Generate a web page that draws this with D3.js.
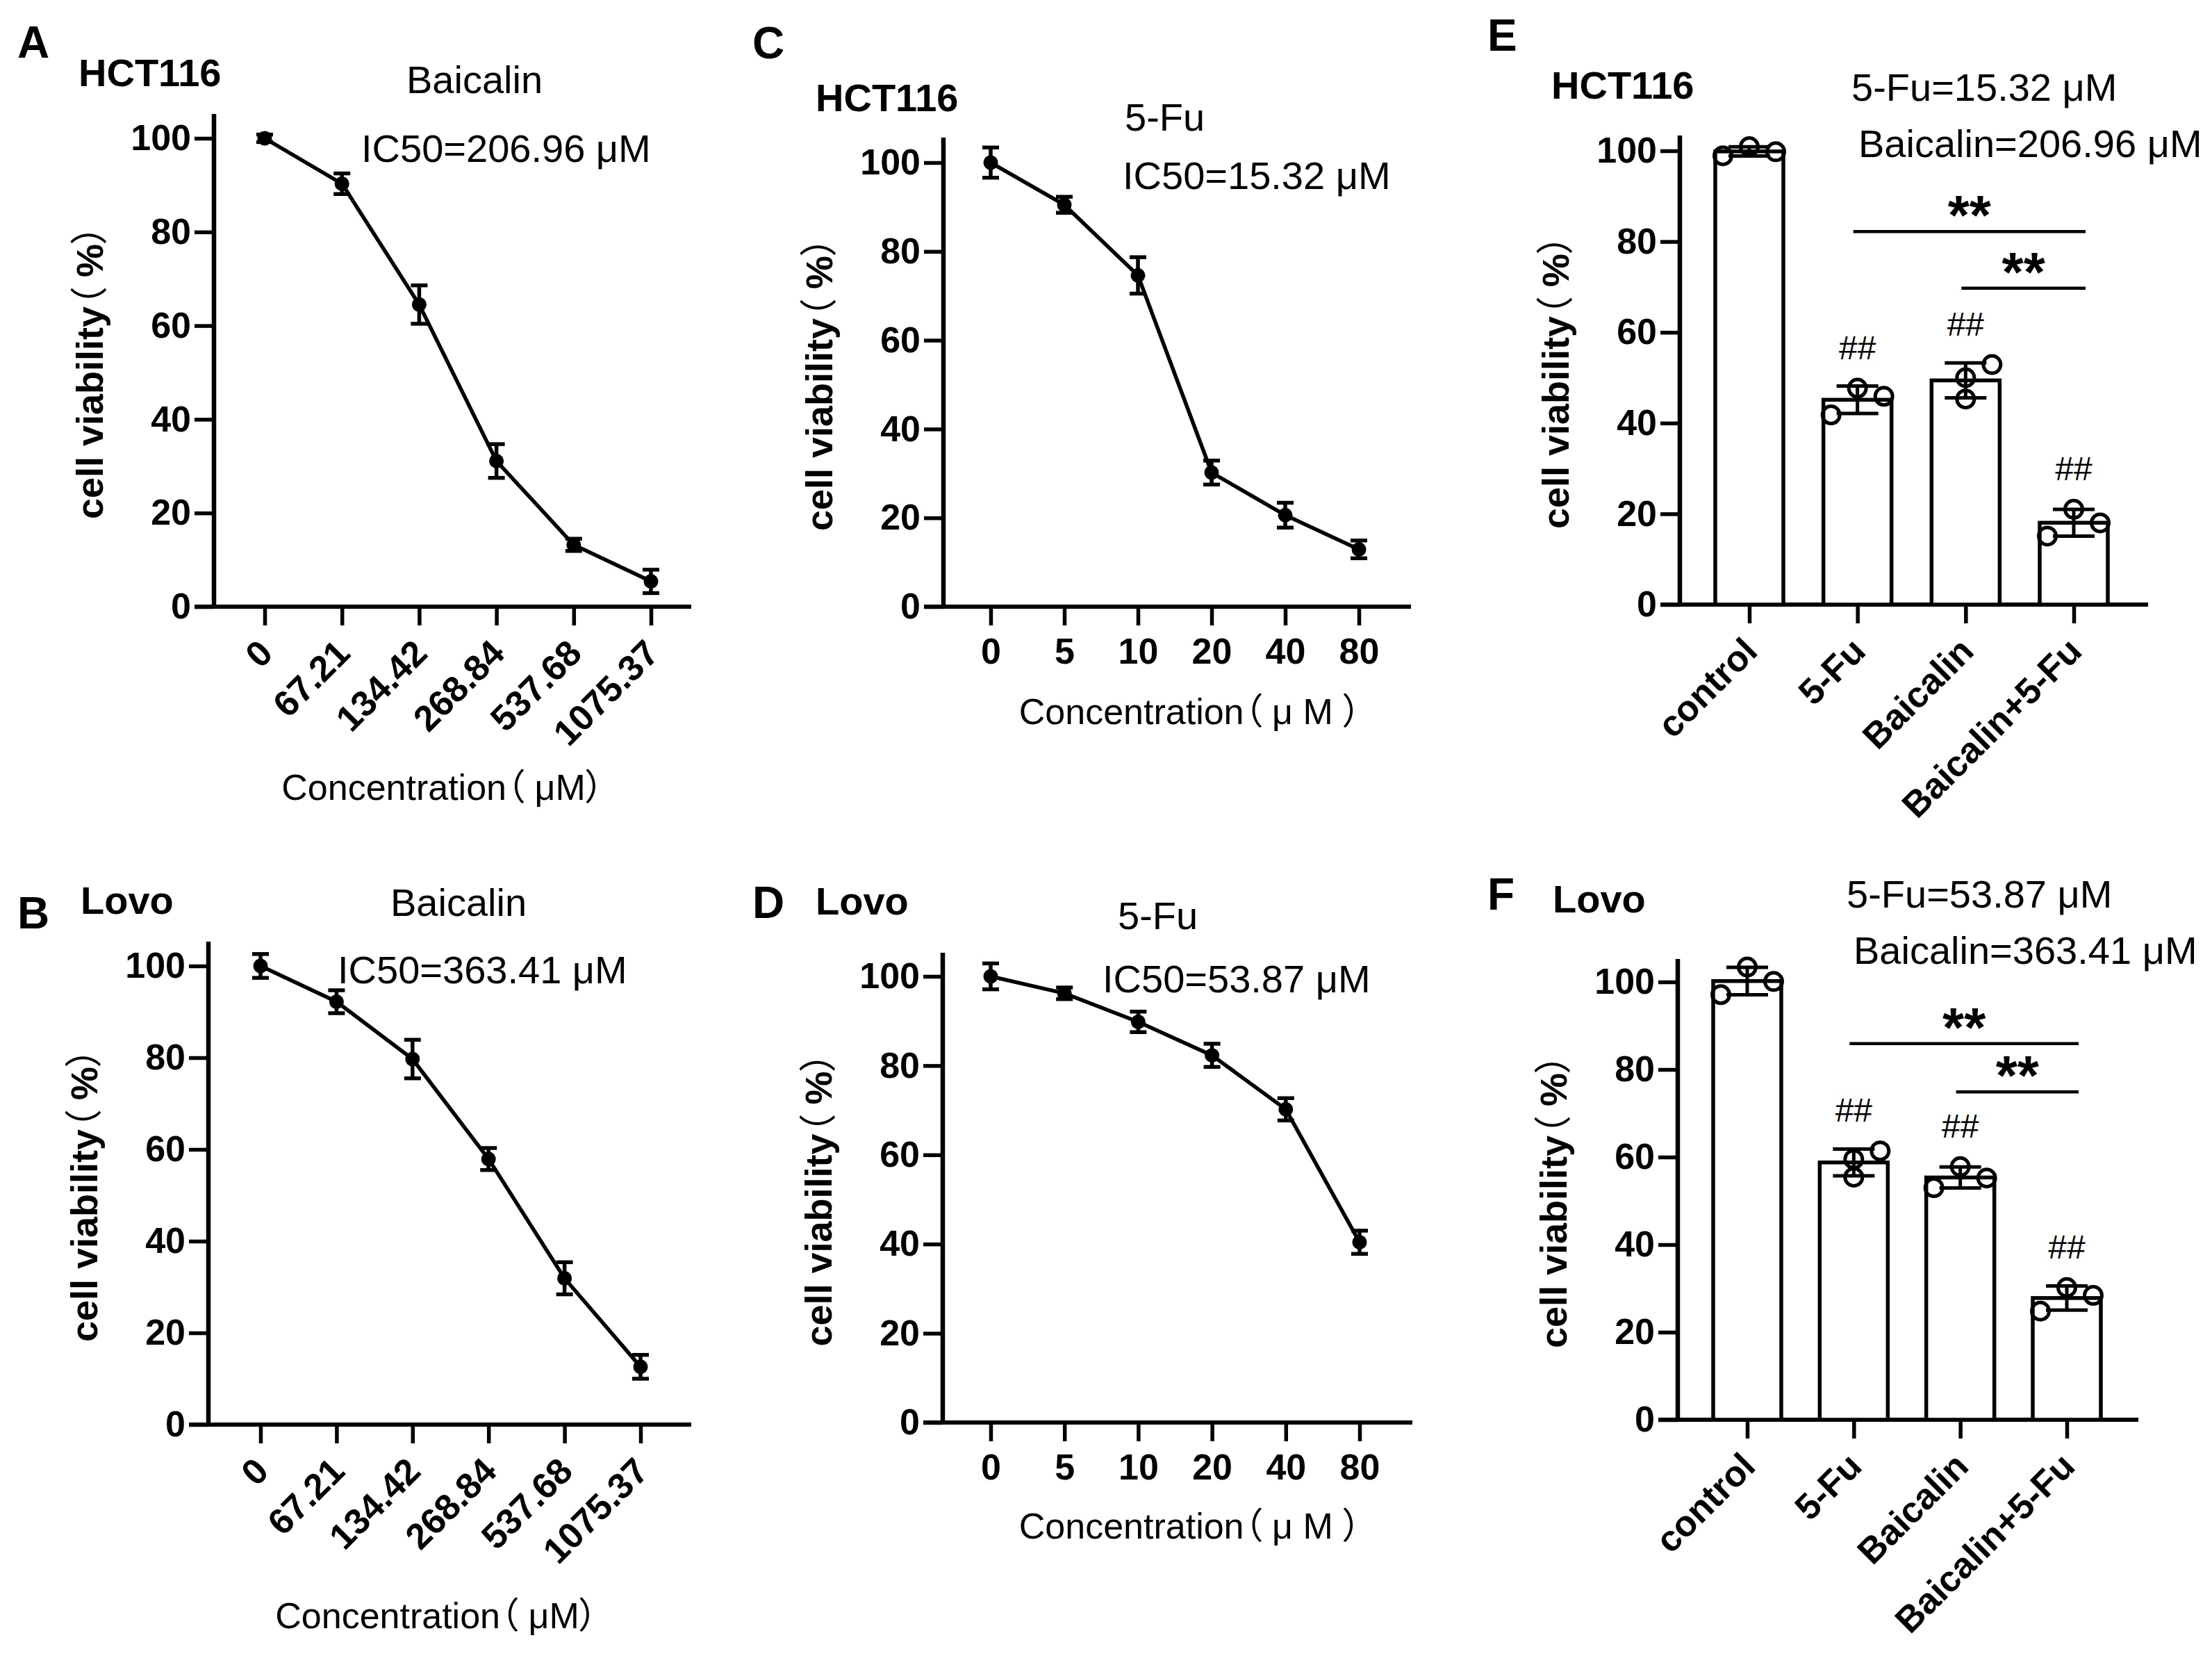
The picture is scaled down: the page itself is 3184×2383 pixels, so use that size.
<!DOCTYPE html>
<html>
<head>
<meta charset="utf-8">
<script src="https://cdn.jsdelivr.net/npm/d3@7"></script>
<style>
  body { margin: 0; background: #fff; }
  .cjk { font-family: 'Noto Sans CJK SC', sans-serif; font-weight: normal; font-feature-settings: "palt" 1; }
</style>
</head>
<body>
<svg id="fig"></svg>
<script>
// ---- data ----
var baiDoses = ["0", "67.21", "134.42", "268.84", "537.68", "1075.37"];
var fuDoses = ["0", "5", "10", "20", "40", "80"];
var yTicks = [0, 20, 40, 60, 80, 100];

// A: HCT116 + Baicalin
var hctBaiMean = [100, 90.3, 64.5, 31.1, 13.2, 5.4];
var hctBaiSd = [0.8, 2.2, 4.1, 3.6, 1.3, 2.5];
// B: Lovo + Baicalin
var lovoBaiMean = [100, 92.2, 79.7, 57.9, 31.9, 12.6];
var lovoBaiSd = [2.6, 2.5, 4.2, 2.4, 3.5, 2.6];
// C: HCT116 + 5-Fu
var hctFuMean = [100, 90.5, 74.6, 30.2, 20.6, 12.9];
var hctFuSd = [3.4, 1.8, 4.1, 2.7, 2.8, 2.0];
// D: Lovo + 5-Fu
var lovoFuMean = [100, 96.2, 89.8, 82.3, 70.2, 40.4];
var lovoFuSd = [2.9, 1.3, 2.3, 2.6, 2.5, 2.6];

// E / F: combination, three replicates per group
var groups = ["control", "5-Fu", "Baicalin", "Baicalin+5-Fu"];
var hctReps = [[98.9, 100.9, 99.8], [41.8, 47.7, 45.9], [50.0, 45.3, 52.9], [15.1, 21.0, 18.0]];
var lovoReps = [[97.1, 103.4, 100.1], [59.5, 55.4, 61.4], [53.0, 57.8, 55.2], [24.8, 30.2, 28.4]];
var hctSig = [82.2, 69.7];   // heights (in %) of the ** brackets
var lovoSig = [85.9, 74.9];

var W = 3184, H = 2383;
var FONT = "'Liberation Sans', Arial, 'Noto Sans CJK SC', sans-serif";

var svg = d3.select("#fig").attr("width", W).attr("height", H)
    .attr("font-family", FONT);
svg.append("rect").attr("width", W).attr("height", H).attr("fill", "#fff");

// writes a string; full-width brackets go in a CJK font with proportional widths
function fill(sel, s) {
    s.split(/([（）])/).forEach(function(part) {
        if (!part) return;
        var t = sel.append("tspan").text(part);
        if (part === "（" || part === "）") t.attr("class", "cjk");
    });
    return sel;
}

function txt(x, y, s, size, bold, anchor) {
    var t = svg.append("text")
        .attr("x", x).attr("y", y)
        .attr("font-size", size)
        .attr("font-weight", bold ? "bold" : "normal")
        .attr("text-anchor", anchor || "start")
        .attr("fill", "#000");
    return fill(t, s);
}

// common frame: y axis, x axis line, y title
function frame(L) {
    var y = d3.scaleLinear().domain([0, 100]).range([L.y0, L.y100]);
    var g = svg.append("g")
        .attr("transform", "translate(" + L.ax + ",0)")
        .call(d3.axisLeft(y).tickValues(yTicks).tickSize(28).tickPadding(5).tickSizeOuter(0));
    g.select(".domain").remove();
    g.attr("font-family", FONT).attr("font-size", 52).attr("font-weight", "bold");
    g.selectAll(".tick line").attr("stroke", "#000").attr("stroke-width", 5.5);
    g.selectAll(".tick text").attr("fill", "#000");

    svg.append("line")
        .attr("x1", L.ax).attr("x2", L.ax)
        .attr("y1", L.y0 + 3).attr("y2", L.yTop)
        .attr("stroke", "#000").attr("stroke-width", 6.5);
    svg.append("line")
        .attr("x1", L.ax - 28).attr("x2", L.xEnd)
        .attr("y1", L.y0).attr("y2", L.y0)
        .attr("stroke", "#000").attr("stroke-width", 6);

    var t = svg.append("text")
        .attr("transform", "translate(" + (L.ax - 160) + "," + ((L.y0 + L.yTop) / 2 + 17) + ") rotate(-90)")
        .attr("text-anchor", "middle")
        .attr("font-size", 54).attr("font-weight", "bold");
    fill(t, "cell viability（ %）");
    return y;
}

function xAxis(x, L, rotate, size) {
    var g = svg.append("g")
        .attr("transform", "translate(0," + L.y0 + ")")
        .call(d3.axisBottom(x).tickSize(27).tickPadding(18).tickSizeOuter(0));
    g.select(".domain").remove();
    g.attr("font-family", FONT).attr("font-size", size).attr("font-weight", "bold");
    g.selectAll(".tick line").attr("stroke", "#000").attr("stroke-width", 5.5);
    g.selectAll(".tick text").attr("fill", "#000");
    if (rotate) {
        g.selectAll(".tick text")
            .attr("x", 0).attr("y", 0).attr("dy", null)
            .attr("text-anchor", "end")
            .attr("transform", "translate(14,70) rotate(-45)");
    }
}

function linePanel(p) {
    var L = p.L;
    var y = frame(L);
    var x = d3.scalePoint().domain(p.doses).range(L.xr);
    xAxis(x, L, p.rotate, 52);

    var pts = p.doses.map(function(d, i) { return { dose: d, m: p.mean[i], s: p.sd[i] }; });

    svg.append("path")
        .datum(pts)
        .attr("fill", "none").attr("stroke", "#000").attr("stroke-width", 5.5)
        .attr("d", d3.line().x(function(d) { return x(d.dose); }).y(function(d) { return y(d.m); }));

    var eb = svg.append("g").attr("stroke", "#000").attr("stroke-width", 5.5);
    pts.forEach(function(d) {
        var cx = x(d.dose);
        eb.append("line").attr("x1", cx).attr("x2", cx).attr("y1", y(d.m - d.s)).attr("y2", y(d.m + d.s));
        eb.append("line").attr("x1", cx - 12).attr("x2", cx + 12).attr("y1", y(d.m - d.s)).attr("y2", y(d.m - d.s));
        eb.append("line").attr("x1", cx - 12).attr("x2", cx + 12).attr("y1", y(d.m + d.s)).attr("y2", y(d.m + d.s));
    });
    svg.append("g").selectAll("circle").data(pts).join("circle")
        .attr("cx", function(d) { return x(d.dose); })
        .attr("cy", function(d) { return y(d.m); })
        .attr("r", 10.5).attr("fill", "#000");

    txt(L.letter[0], L.letter[1], p.letter, 64, true);
    txt(L.cell[0], L.cell[1], p.cell, 56, true);
    txt(L.drug[0], L.drug[1], p.drug, 56, false, L.drugAnchor);
    txt(L.ic[0], L.ic[1], p.ic50, 56, false);
    txt(L.conc[0], L.conc[1], p.conc, 52, false, "middle");
}

function barPanel(p) {
    var L = p.L;
    var y = frame(L);
    var x = d3.scalePoint().domain(groups).range(L.xr);
    xAxis(x, L, true, 52);

    var stats = groups.map(function(g, i) {
        var r = p.reps[i];
        return { g: g, r: r, m: d3.mean(r), s: d3.deviation(r), jit: L.jitter[i] };
    });

    svg.append("g").selectAll("rect").data(stats).join("rect")
        .attr("x", function(d) { return x(d.g) - 49; })
        .attr("y", function(d) { return y(d.m); })
        .attr("width", 98)
        .attr("height", function(d) { return L.y0 - y(d.m); })
        .attr("fill", "#fff").attr("stroke", "#000").attr("stroke-width", 5.5);

    var eb = svg.append("g").attr("stroke", "#000").attr("stroke-width", 5);
    stats.forEach(function(d) {
        var cx = x(d.g);
        eb.append("line").attr("x1", cx).attr("x2", cx).attr("y1", y(d.m - d.s)).attr("y2", y(d.m + d.s));
        eb.append("line").attr("x1", cx - 30).attr("x2", cx + 30).attr("y1", y(d.m - d.s)).attr("y2", y(d.m - d.s));
        eb.append("line").attr("x1", cx - 30).attr("x2", cx + 30).attr("y1", y(d.m + d.s)).attr("y2", y(d.m + d.s));
    });

    var dots = [];
    stats.forEach(function(d) {
        d.r.forEach(function(v, k) { dots.push({ g: d.g, v: v, j: d.jit[k] }); });
    });
    svg.append("g").selectAll("circle").data(dots).join("circle")
        .attr("cx", function(d) { return x(d.g) + d.j * 38; })
        .attr("cy", function(d) { return y(d.v); })
        .attr("r", 12.5)
        .attr("fill", "none").attr("stroke", "#000").attr("stroke-width", 5);

    // ## over treated groups
    stats.slice(1).forEach(function(d) {
        txt(x(d.g), y(d3.max(d.r)) - 42, "##", 48, false, "middle");
    });

    // ** brackets: 5-Fu vs combo, Baicalin vs combo
    [[groups[1], p.sig[0]], [groups[2], p.sig[1]]].forEach(function(b) {
        var x1 = x(b[0]) - 6, x2 = x(groups[3]) + 17, yy = y(b[1]);
        svg.append("line").attr("x1", x1).attr("x2", x2).attr("y1", yy).attr("y2", yy)
            .attr("stroke", "#000").attr("stroke-width", 4.5);
        txt((x1 + x2) / 2, yy + 4, "**", 80, true, "middle");
    });

    txt(L.letter[0], L.letter[1], p.letter, 64, true);
    txt(L.cell[0], L.cell[1], p.cell, 56, true);
    txt(L.t1[0], L.t1[1], p.t1, 56, false);
    txt(L.t2[0], L.t2[1], p.t2, 56, false);
}

linePanel({
    letter: "A", cell: "HCT116", drug: "Baicalin", ic50: "IC50=206.96 μM",
    conc: "Concentration（ μM）", doses: baiDoses, mean: hctBaiMean, sd: hctBaiSd, rotate: true,
    L: { ax: 308, y0: 873, y100: 199, yTop: 164, xEnd: 995, xr: [381, 937],
         letter: [25, 83], cell: [113, 124], drug: [683, 134], drugAnchor: "middle",
         ic: [520, 233], conc: [637, 1151] }
});
linePanel({
    letter: "B", cell: "Lovo", drug: "Baicalin", ic50: "IC50=363.41 μM",
    conc: "Concentration（ μM）", doses: baiDoses, mean: lovoBaiMean, sd: lovoBaiSd, rotate: true,
    L: { ax: 300, y0: 2050, y100: 1390, yTop: 1355, xEnd: 995, xr: [375, 922],
         letter: [25, 1336], cell: [116, 1315], drug: [660, 1318], drugAnchor: "middle",
         ic: [486, 1415], conc: [628, 2343] }
});
linePanel({
    letter: "C", cell: "HCT116", drug: "5-Fu", ic50: "IC50=15.32 μM",
    conc: "Concentration（ μ M ）", doses: fuDoses, mean: hctFuMean, sd: hctFuSd, rotate: false,
    L: { ax: 1358, y0: 873, y100: 234, yTop: 198, xEnd: 2031, xr: [1426, 1956],
         letter: [1083, 84], cell: [1174, 160], drug: [1619, 188], drugAnchor: "start",
         ic: [1616, 272], conc: [1713, 1042] }
});
linePanel({
    letter: "D", cell: "Lovo", drug: "5-Fu", ic50: "IC50=53.87 μM",
    conc: "Concentration（ μ M ）", doses: fuDoses, mean: lovoFuMean, sd: lovoFuSd, rotate: false,
    L: { ax: 1357, y0: 2047, y100: 1405, yTop: 1371, xEnd: 2033, xr: [1426, 1957],
         letter: [1083, 1321], cell: [1174, 1316], drug: [1609, 1337], drugAnchor: "start",
         ic: [1587, 1428], conc: [1713, 2214] }
});
barPanel({
    letter: "E", cell: "HCT116", t1: "5-Fu=15.32 μM", t2: "Baicalin=206.96 μM",
    reps: hctReps, sig: hctSig,
    L: { ax: 2418, y0: 870, y100: 217, yTop: 195, xEnd: 3092, xr: [2518, 2985],
         jitter: [[-1, 0, 1], [-1, 0, 1], [0, 0, 1], [-1, 0, 1]],
         letter: [2141, 73], cell: [2233, 142], t1: [2665, 145], t2: [2675, 226] }
});
barPanel({
    letter: "F", cell: "Lovo", t1: "5-Fu=53.87 μM", t2: "Baicalin=363.41 μM",
    reps: lovoReps, sig: lovoSig,
    L: { ax: 2415, y0: 2043, y100: 1413, yTop: 1380, xEnd: 3078, xr: [2515, 2975],
         jitter: [[-1, 0, 1], [0, 0, 1], [-1, 0, 1], [-1, 0, 1]],
         letter: [2141, 1309], cell: [2235, 1313], t1: [2658, 1306], t2: [2668, 1387] }
});
</script>
</body>
</html>
